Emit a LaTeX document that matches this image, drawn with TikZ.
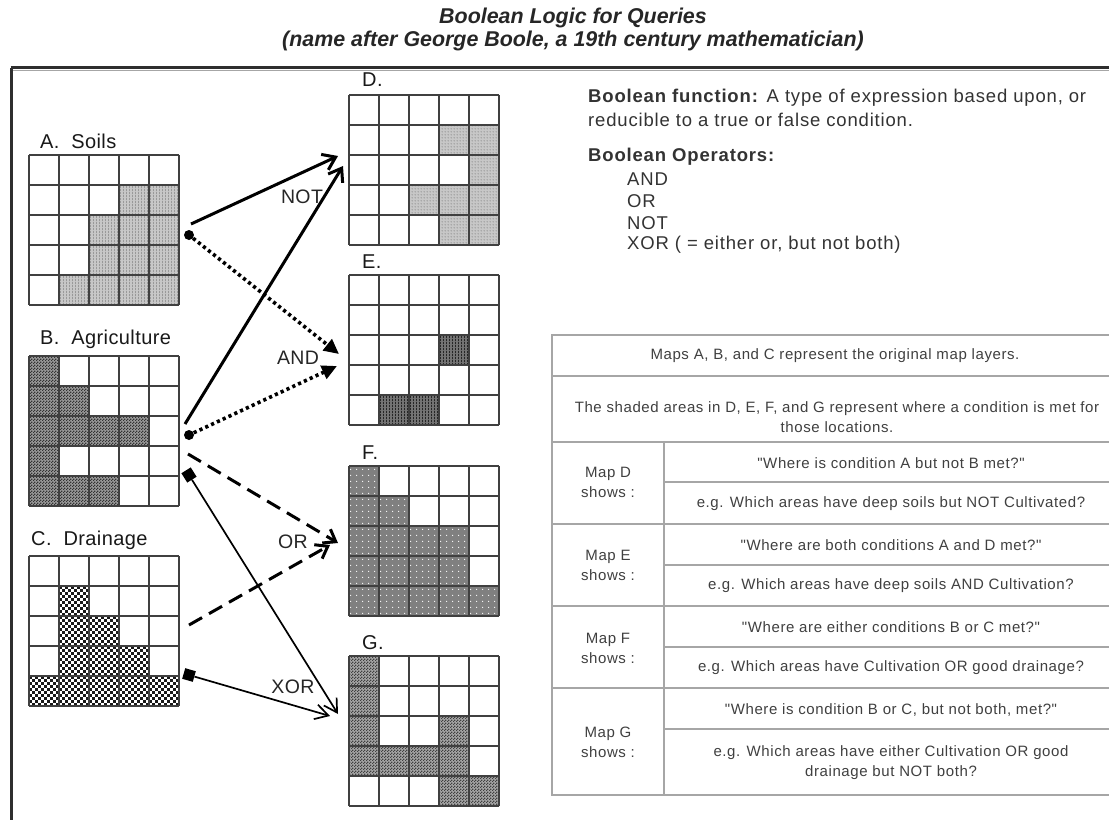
\documentclass[tikz,border=0pt]{standalone}
\usepackage{fontspec}
\setmainfont{Liberation Sans}
\newfontfamily\spfont{Liberation Sans}[LetterSpace=4.5]
\newfontfamily\tbfont{Liberation Sans}[LetterSpace=4]
\newfontfamily\labfont{Liberation Sans}[LetterSpace=2]
\usetikzlibrary{arrows.meta,patterns}

\pgfdeclarepatternformonly{finecheck}{\pgfpointorigin}{\pgfqpoint{3pt}{3pt}}{\pgfqpoint{3pt}{3pt}}{%
 \pgfpathrectangle{\pgfpointorigin}{\pgfqpoint{1.5pt}{1.5pt}}%
 \pgfpathrectangle{\pgfqpoint{1.5pt}{1.5pt}}{\pgfqpoint{1.5pt}{1.5pt}}%
 \pgfusepath{fill}}
\pgfdeclarepatternformonly{finevert}{\pgfpointorigin}{\pgfqpoint{2.5pt}{2.5pt}}{\pgfqpoint{2.5pt}{2.5pt}}{%
 \pgfpathrectangle{\pgfpointorigin}{\pgfqpoint{1pt}{2.5pt}}%
 \pgfusepath{fill}}
\pgfdeclarepatternformonly{finedots}{\pgfpointorigin}{\pgfqpoint{3pt}{3pt}}{\pgfqpoint{3pt}{3pt}}{%
 \pgfpathcircle{\pgfqpoint{1.5pt}{1.5pt}}{0.7pt}%
 \pgfusepath{fill}}
\pgfdeclarepatternformonly{sparsedots}{\pgfpointorigin}{\pgfqpoint{6pt}{6pt}}{\pgfqpoint{6pt}{6pt}}{%
 \pgfpathcircle{\pgfqpoint{3pt}{3pt}}{0.8pt}%
 \pgfusepath{fill}}

\newcommand\shadecells[5]{%
  \foreach \r/\c in {#5}{%
    \fill[#3] ({#1+\c*30},{#2+\r*30}) rectangle ++(30,30);
    \fill[#4] ({#1+\c*30},{#2+\r*30}) rectangle ++(30,30);
  }}
\newcommand\checkcells[3]{%
  \foreach \r/\c in {#3}{%
    \foreach \i in {0,...,9}{%
      \foreach \j in {0,...,4}{%
        \pgfmathsetmacro\cy{#2+\r*30+(2*\j+mod(\i,2))*3}%
        \fill[black!90] ({#1+\c*30+\i*3},\cy) rectangle ++(3,3);
      }}}}
\newcommand\gridlines[2]{%
  \foreach \i in {0,...,5}{%
    \draw[gridl] ({#1+\i*30},#2) -- ++(0,150);
    \draw[gridl] (#1,{#2+\i*30}) -- ++(150,0);
  }}

\begin{document}
\begin{tikzpicture}[x=1pt,y=-1pt,
  gridl/.style={draw=black!75,line width=1.2pt},
  gridframe/.style={draw=none,minimum size=150pt,inner sep=0pt},
  lab/.style={font=\labfont\fontsize{20}{24}\selectfont,text=black!90,anchor=west,inner sep=0pt},
  oplab/.style={font=\labfont\fontsize{19.5}{23}\selectfont,text=black!85,inner sep=0pt},
  rtext/.style={font=\spfont\fontsize{18.5}{22}\selectfont,text=black!80,anchor=west,inner sep=0pt},
  ttext/.style={font=\tbfont\fontsize{15}{20}\selectfont,text=black!75,inner sep=0pt,align=center},
  tline/.style={draw=black!35,line width=1.6pt},
  solidar/.style={line width=3pt,-{Straight Barb[length=12pt,width=17pt]}},
  dotar/.style={line width=3.6pt,dash pattern=on 3.2pt off 3.2pt,-{Triangle[length=15pt,width=14pt]}},
  dashar/.style={line width=3pt,dash pattern=on 15pt off 8pt,-{Straight Barb[length=11pt,width=16pt]}},
  thinar/.style={line width=1.7pt,-{Straight Barb[length=13pt,width=15pt]}},
  dotm/.style={circle,fill=black,inner sep=0pt,minimum size=10pt},
  sqm/.style={rectangle,fill=black,inner sep=0pt,minimum size=11pt}]
\useasboundingbox (0,0) rectangle (1109,820);
\fill[white] (0,0) rectangle (1109,820);

% title
\node[font=\bfseries\itshape\fontsize{21.4}{25}\selectfont,text=black!85] (t1) at (573,18) {Boolean Logic for Queries};
\node[font=\bfseries\itshape\fontsize{21.4}{25}\selectfont,text=black!85] (t2) at (573,41) {(name after George Boole, a 19th century mathematician)};
\draw[black!82,line width=2.6pt] (10.5,67.5) -- (1109,67.5);
\draw[black!35,line width=1pt] (12,70.5) -- (1109,70.5);
\draw[black!82,line width=2.2pt] (11.5,67.5) -- (11.5,820);

% grids: A
\shadecells{29}{155}{black!22}{pattern=finevert,pattern color=black!40}{1/3,1/4,2/2,2/3,2/4,3/2,3/3,3/4,4/1,4/2,4/3,4/4}
\gridlines{29}{155}
\node[gridframe] (gA) at (104,230) {};
\node[lab] (lA) at (40,141) {A.\ \ Soils};
% B
\shadecells{29}{356}{black!40}{pattern=finecheck,pattern color=black!80}{0/0,1/0,1/1,2/0,2/1,2/2,2/3,3/0,4/0,4/1,4/2}
\gridlines{29}{356}
\node[gridframe] (gB) at (104,431) {};
\node[lab] (lB) at (40,339) {B.\ \ Agriculture};
% C
\checkcells{29}{556}{1/1,2/1,2/2,3/1,3/2,3/3,4/0,4/1,4/2,4/3,4/4}
\gridlines{29}{556}
\node[gridframe] (gC) at (104,631) {};
\node[lab] (lC) at (31,540) {C.\ \ Drainage};
% D
\shadecells{349}{95}{black!22}{pattern=finedots,pattern color=black!55}{1/3,1/4,2/4,3/2,3/3,3/4,4/3,4/4}
\gridlines{349}{95}
\node[gridframe] (gD) at (424,170) {};
\node[lab] (lD) at (362,80) {D.};
% E
\shadecells{349}{275}{black!55}{pattern=finevert,pattern color=black!85}{2/3,4/1,4/2}
\gridlines{349}{275}
\node[gridframe] (gE) at (424,350) {};
\node[lab] (lE) at (362,262) {E.};
% F
\shadecells{349}{466}{black!50}{pattern=sparsedots,pattern color=white}{0/0,1/0,1/1,2/0,2/1,2/2,2/3,3/0,3/1,3/2,3/3,4/0,4/1,4/2,4/3,4/4}
\gridlines{349}{466}
\node[gridframe] (gF) at (424,541) {};
\node[lab] (lF) at (362,453) {F.};
% G
\shadecells{349}{656}{black!35}{pattern=finecheck,pattern color=black!75}{0/0,1/0,2/0,2/3,3/0,3/1,3/2,3/3,4/3,4/4}
\gridlines{349}{656}
\node[gridframe] (gG) at (424,731) {};
\node[lab] (lG) at (362,643) {G.};

% connectors
\coordinate (sAnot) at (191,224);
\coordinate (eAnot) at (338,156);
\coordinate (sBnot) at (185,424);
\coordinate (eBnot) at (343,166);
\node[dotm] (mA) at (189,235) {};
\coordinate (eAand) at (339,354);
\node[dotm] (mB) at (189,435) {};
\coordinate (eBand) at (337,366);
\coordinate (sBor) at (188,454);
\coordinate (eBor) at (338,543);
\coordinate (sCor) at (189,625);
\coordinate (eCor) at (330,545);
\node[sqm,rotate=32] (qB) at (189,475) {};
\coordinate (eBxor) at (338,714);
\node[sqm,rotate=-16] (qC) at (189,675) {};
\coordinate (eCxor) at (330,716);

\draw[solidar] (sAnot) -- (eAnot);
\draw[solidar] (sBnot) -- (eBnot);
\draw[dotar] (mA) -- (eAand);
\draw[dotar] (mB) -- (eBand);
\draw[dashar] (sBor) -- (eBor);
\draw[dashar] (sCor) -- (eCor);
\draw[thinar] (qB) -- (eBxor);
\draw[thinar] (qC) -- (eCxor);

\node[oplab] (oNot) at (302,197) {NOT};
\node[oplab] (oAnd) at (298,358) {AND};
\node[oplab] (oOr) at (293,542) {OR};
\node[oplab] (oXor) at (293,687) {XOR};

% right text
\node[rtext] (bf1) at (588,98) {\textbf{Boolean function:} A type of expression based upon, or};
\node[rtext] (bf2) at (588,120) {reducible to a true or false condition.};
\node[rtext] (bo) at (588,157) {\textbf{Boolean Operators:}};
\node[rtext] (o1) at (627,179) {AND};
\node[rtext] (o2) at (627,201) {OR};
\node[rtext] (o3) at (627,223) {NOT};
\node[rtext] (o4) at (627,245) {XOR ( = either or, but not both)};

% table
\draw[tline] (1118,335) -- (552,335) -- (552,795) -- (1118,795);
\draw[tline] (1118,335) -- (1118,795);
\foreach \yy in {376,442,524,606,688} \draw[tline] (552,\yy) -- (1118,\yy);
\foreach \yy in {482,565,647,729} \draw[tline] (664,\yy) -- (1118,\yy);
\draw[tline] (664,442) -- (664,795);

\node[ttext] (r1) at (835,356) {Maps A, B, and C represent the original map layers.};
\node[ttext] (r2) at (837,417) {The shaded areas in D, E, F, and G represent where a condition is met for\\those locations.};
\node[ttext] (mD) at (608,482) {Map D\\shows :};
\node[ttext] (mE) at (608,565) {Map E\\shows :};
\node[ttext] (mF) at (608,648) {Map F\\shows :};
\node[ttext] (mG) at (608,742) {Map G\\shows :};
\node[ttext] (d1) at (891,463) {"Where is condition A but not B met?"};
\node[ttext] (d2) at (891,504) {e.g. Which areas have deep soils but NOT Cultivated?};
\node[ttext] (e1) at (891,545) {"Where are both conditions A and D met?"};
\node[ttext] (e2) at (891,586) {e.g. Which areas have deep soils AND Cultivation?};
\node[ttext] (f1) at (891,627) {"Where are either conditions B or C met?"};
\node[ttext] (f2) at (891,668) {e.g. Which areas have Cultivation OR good drainage?};
\node[ttext] (g1) at (891,710) {"Where is condition B or C, but not both, met?"};
\node[ttext] (g2) at (891,763) {e.g. Which areas have either Cultivation OR good\\drainage but NOT both?};
\end{tikzpicture}
\end{document}
